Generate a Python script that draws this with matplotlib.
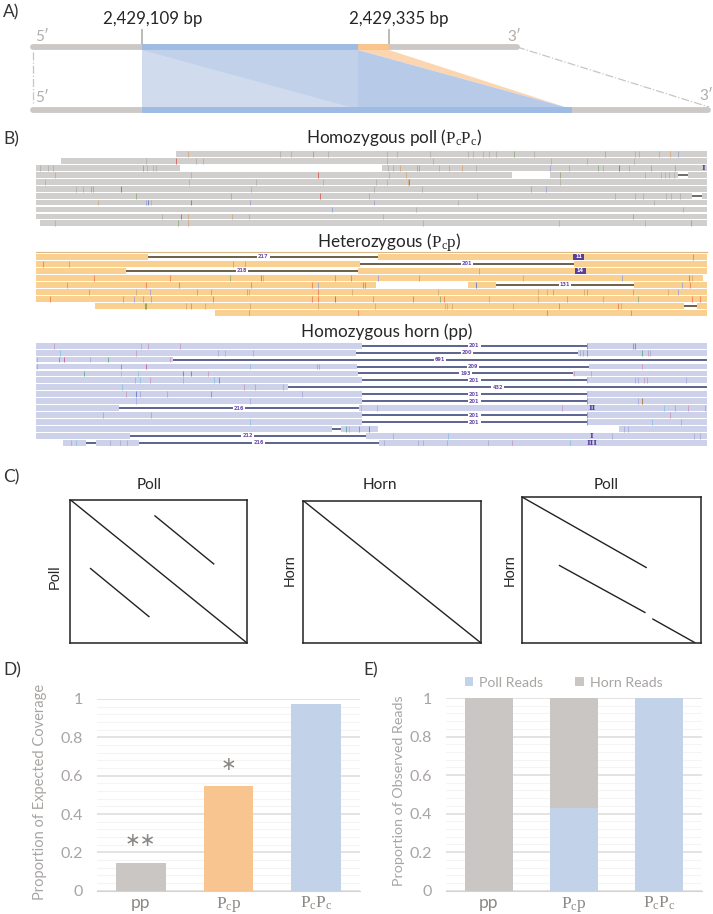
import matplotlib
matplotlib.use('Agg')
import matplotlib.pyplot as plt
from matplotlib.patches import Rectangle, Polygon

plt.rcParams['font.family'] = ['Lato', 'DejaVu Sans']
plt.rcParams['mathtext.fontset'] = 'custom'
plt.rcParams['mathtext.rm'] = 'Liberation Serif'
plt.rcParams['mathtext.it'] = 'Liberation Serif'

W, H = 713, 914
VIEW_W = 1568  # read tracks are in browser-view units, full figure width

# read tracks: solid read pieces per row
poll_reads = [[(388, 1555)], [(135, 1555)], [(80, 396), (840, 1555)],
              [(80, 1125), (1210, 1490), (1512, 1555)], [(80, 1555)], [(80, 1555)],
              [(80, 1522), (1544, 1555)], [(80, 1555)], [(80, 1555)], [(80, 1555)], [(88, 1555)]]
het_reads = [[(80, 326), (832, 1555)], [(80, 792), (1262, 1555)], [(80, 278), (787, 1555)],
             [(80, 1545)], [(80, 827), (1029, 1090), (1395, 1555)], [(80, 1555)], [(80, 1555)],
             [(210, 1505), (1532, 1555)], [(472, 1555)]]
horn_reads = [[(80, 796), (1290, 1555)], [(80, 782), (1272, 1555)], [(80, 380)],
              [(80, 785), (1295, 1555)], [(80, 787), (1260, 1555)], [(80, 796), (1290, 1555)],
              [(80, 634)], [(80, 796), (1290, 1555)], [(80, 796), (1290, 1555)],
              [(80, 261), (790, 1555)], [(80, 796), (1290, 1555)], [(80, 796), (1290, 1555)],
              [(80, 730), (750, 832), (1362, 1555)], [(80, 285), (804, 1555)],
              [(138, 190), (212, 305), (833, 1555)]]

# deletions: row, start, end, label
poll_dels = [(3, 1490, 1512, ''), (6, 1522, 1544, '')]
het_dels = [(0, 326, 832, '217'), (1, 792, 1262, '201'), (2, 278, 787, '218'),
            (4, 1090, 1395, '131'), (7, 1505, 1532, '')]
horn_dels = [(0, 796, 1290, '201'), (1, 782, 1272, '200'), (2, 380, 1555, '691'),
             (3, 785, 1295, '209'), (4, 787, 1260, '193'), (5, 796, 1290, '201'),
             (6, 634, 1555, '432'), (7, 796, 1290, '201'), (8, 796, 1290, '201'),
             (9, 261, 790, '216'), (10, 796, 1290, '201'), (11, 796, 1290, '201'),
             (12, 730, 750, ''), (13, 285, 804, '212'), (14, 190, 212, ''), (14, 305, 833, '216')]

# insertions: row, x, label
poll_ins = [(2, 1547, 'I')]
het_ins = [(0, 1273, '11'), (2, 1276, '14')]
horn_ins = [(9, 1303, 'II'), (13, 1301, 'I'), (14, 1303, 'III')]

# mismatch ticks per row as (x, colour key)
poll_snps = [
    [(413, 'o'), (616, 'n'), (640, 'n'), (688, 'g'), (722, 'n'), (851, 'n'), (872, 'n'), (945, 'n'), (1030, 'n'),
     (1040, 'n'), (1062, 'n'), (1076, 'o'), (1090, 'n'), (1130, 'g'), (1174, 'n'), (1330, 'b'), (1397, 'n'),
     (1405, 'n'), (1449, 'n'), (1473, 'o'), (1491, 'b')],
    [(321, 'n'), (388, 'R'), (432, 'n'), (446, 'n'), (851, 'n'), (953, 'n'), (1211, 'o'), (1292, 'n'), (1395, 'n')],
    [(88, 'n'), (105, 'n'), (117, 'n'), (315, 'g'), (323, 'n'), (337, 'o'), (344, 'n'), (853, 'n'), (865, 'n'),
     (880, 'o'), (917, 'b'), (921, 'b'), (965, 'n'), (988, 'o'), (1016, 'o'), (1047, 'n'), (1210, 'b'), (1252, 'n'),
     (1314, 'g'), (1325, 'n'), (1362, 'B'), (1383, 'o'), (1432, 'b'), (1485, 'b')],
    [(120, 'o'), (421, 'n'), (699, 'R'), (855, 'n'), (893, 'o'), (1231, 'g'), (1418, 'o'), (1453, 'n'), (1463, 'n'),
     (1472, 'n'), (1482, 'n')],
    [(100, 'n'), (415, 'n'), (563, 'n'), (711, 'n'), (826, 'n'), (851, 'o'), (897, 'o'), (900, 'R'), (1231, 'n')],
    [(167, 'n'), (182, 'n'), (200, 'b'), (205, 'b'), (267, 'B'), (552, 'n'), (823, 'n'), (929, 'n'), (1168, 'b'),
     (1201, 'b')],
    [(298, 'g'), (508, 'b'), (703, 'R'), (811, 'n'), (1048, 'o'), (1352, 'n'), (1397, 'n'), (1415, 'o'), (1465, 'n'),
     (1475, 'n'), (1495, 'n')],
    [(215, 'o'), (322, 'b'), (325, 'B'), (331, 'n'), (421, 'B'), (550, 'b'), (823, 'b'), (1008, 'n'), (1438, 'n')],
    [(730, 'b'), (915, 'n'), (1503, 'n')],
    [(356, 'n'), (397, 'R'), (414, 'o'), (510, 'o'), (547, 'n'), (843, 'n'), (1393, 'g')],
    [(121, 'n'), (391, 'g'), (414, 'o'), (930, 'n'), (1230, 'n'), (1418, 'n'), (1520, 'g')],
]
het_snps = [
    [(1523, 'r')],
    [(95, 'r'), (152, 'b'), (513, 'b'), (538, 'b')],
    [(1053, 'b')],
    [(207, 'r'), (373, 'r'), (505, 'g'), (574, 'G'), (578, 'o'), (737, 'g'), (772, 'r'), (832, 'b'), (921, 'b'),
     (1150, 'o'), (1368, 'b'), (1515, 'G'), (1522, 'o')],
    [(148, 'b'), (320, 'r'), (393, 'r'), (552, 'g'), (687, 'r'), (699, 'b'), (798, 'r'), (803, 'r'), (1047, 'B'),
     (1500, 'b'), (1517, 'r')],
    [(195, 'b'), (298, 'o'), (330, 'b'), (433, 'b'), (464, 'b'), (544, 'b'), (548, 'o'), (700, 'r'), (775, 'o'),
     (963, 'o'), (1183, 'o'), (1204, 'o'), (1216, 'b'), (1285, 'o'), (1292, 'b'), (1393, 'b'), (1470, 'o'), (1490, 'b')],
    [(110, 'r'), (271, 'b'), (295, 'b'), (315, 'b'), (331, 'b'), (469, 'r'), (687, 'r'), (700, 'r'), (736, 'B'),
     (821, 'b'), (909, 'r'), (968, 'g'), (976, 'r'), (1075, 'o'), (1183, 'o'), (1247, 'b'), (1325, 'o'), (1402, 'g'),
     (1522, 'r'), (1540, 'r')],
    [(318, 'G'), (322, 'G'), (408, 'o'), (421, 'g'), (450, 'o'), (550, 'o'), (700, 'o'), (825, 'o'), (978, 'o'),
     (983, 'o'), (995, 'o'), (1128, 'o'), (1230, 'g'), (1358, 'r'), (1365, 'o')],
    [(547, 'b'), (787, 'r'), (1203, 'r'), (1387, 'r')],
]
horn_snps = [
    [(118, 'p'), (310, 'c'), (326, 'p'), (395, 'p'), (1292, 'e'), (1392, 'e'), (1397, 'P')],
    [(133, 'c'), (298, 'p'), (479, 'v'), (495, 'c'), (556, 'v'), (1275, 'v'), (1282, 'p'), (1292, 'e'), (1412, 'e'),
     (1425, 'p'), (1430, 'v')],
    [(82, 'c'), (130, 'e'), (140, 'P'), (198, 'v'), (237, 'e'), (374, 'p')],
    [(81, 'p'), (267, 'e'), (320, 'P'), (549, 'c'), (697, 'p'), (702, 'p'), (1411, 'p')],
    [(184, 'e'), (267, 'c'), (304, 'c'), (402, 'B'), (421, 'B'), (458, 'p'), (1262, 'p'), (1300, 'p')],
    [(297, 'v'), (308, 'c'), (329, 'p'), (403, 'v'), (470, 'c'), (481, 'P'), (1291, 'c'), (1396, 'v'), (1403, 'v'),
     (1417, 'p'), (1423, 'p'), (1508, 'v')],
    [(268, 'c'), (536, 'p'), (560, 'p'), (623, 'v')],
    [(278, 'p'), (298, 'B'), (307, 'v'), (368, 'p'), (463, 'e'), (665, 'v'), (1291, 'c')],
    [(298, 'v'), (550, 'v'), (1291, 'e'), (1402, 'v'), (1411, 'k')],
    [(793, 'c'), (830, 'v'), (1237, 'p'), (1460, 'c'), (1484, 'p'), (1512, 'p'), (1550, 'v')],
    [(227, 'p'), (333, 'p'), (1291, 'e'), (1473, 'p')],
    [(550, 'c'), (1291, 'e'), (1434, 'c'), (1498, 'v')],
    [(762, 'e'), (767, 'c'), (789, 'e'), (812, 'B'), (1372, 'v'), (1380, 'v')],
    [(865, 'v'), (986, 'c'), (1345, 'v'), (1527, 'v'), (1540, 'v')],
    [(157, 'v'), (167, 'c'), (243, 'v'), (263, 'v'), (279, 'v'), (845, 'v'), (920, 'v'), (931, 'v'), (983, 'v'),
     (1073, 'v'), (1127, 'p'), (1254, 'c')],
]
snp_colors = {'n': '#b5b0a8', 'o': '#d8a878', 'g': '#8fae7e', 'G': '#7fa040', 'b': '#9aa4d8', 'B': '#5f78d0',
              'R': '#d85a50', 'r': '#ef7f50', 'p': '#c89ac0', 'P': '#c85a90', 'c': '#86c4e4', 'e': '#5fa88a',
              'v': '#a9acd8', 'k': '#a87030'}

# dot plots in panel C, fractions of each box (top left = 0, 0)
dot_poll_poll = [((0, 0), (1, 1)), ((.477, .111), (.815, .452)), ((.113, .478), (.449, .819))]
dot_horn_horn = [((0, 0), (1, 1))]
dot_horn_poll = [((0, 0), (.697, .485)), ((.206, .467), (.690, .793)), ((.728, .834), (.969, 1))]

# bar charts
genotypes = ['pp', r'$\mathrm{P_c p}$', r'$\mathrm{P_c P_c}$']
coverage = [0.145, 0.545, 0.975]
coverage_colors = ['#c9c6c4', '#f8c490', '#c2d2e8']
coverage_stars = ['∗∗', '∗', '']
poll_fraction = [0, 0.43, 1]
horn_fraction = [1, 0.57, 0]
yticks = [0, 0.2, 0.4, 0.6, 0.8, 1]
ytick_labels = ['0', '0.2', '0.4', '0.6', '0.8', '1']
minor_yticks = [0.04 * i for i in range(26) if i % 5]


def px_axes(x0, y0, x1, y1):
    return fig.add_axes([x0 / W, 1 - y1 / H, (x1 - x0) / W, (y1 - y0) / H])


def draw_track(top, dy, reads, dels, ins, snps, color, del_color, ins_color):
    n = len(reads)
    ax = px_axes(0, top - dy / 2, W, top + (n - .5) * dy)
    ax.set_xlim(0, VIEW_W)
    ax.set_ylim(n - .5, -.5)
    ax.axis('off')
    for i, row in enumerate(reads):
        for a, b in row:
            ax.add_patch(Rectangle((a, i - .42), b - a, .84, fc=color, ec='none'))
    for i, row in enumerate(snps):
        for x, c in row:
            ax.plot([x, x], [i - .42, i + .42], color=snp_colors[c], lw=.75, alpha=.8, solid_capstyle='butt')
    for r, a, b, label in dels:
        ax.plot([a, b], [r, r], color=del_color, lw=1.2, solid_capstyle='butt')
        if label:
            ax.text((a + b) / 2, r, label, fontsize=3.6, color='#6a4fb0', weight='bold', ha='center', va='center',
                    family='DejaVu Sans', bbox=dict(fc='white', ec='none', pad=.8))
    for r, x, label in ins:
        if len(label) > 1 and label[0].isdigit():
            ax.add_patch(Rectangle((x - 12, r - .42), 24, .84, fc=ins_color, ec='none'))
            ax.text(x, r, label, fontsize=3.6, color='white', weight='bold', ha='center', va='center',
                    family='DejaVu Sans')
        else:
            ax.text(x, r, label, fontsize=5.5, color=ins_color, weight='bold', ha='center', va='center',
                    family='DejaVu Serif')
    return ax


def draw_dot(x0, y0, x1, y1, segments):
    ax = px_axes(x0, y0, x1, y1)
    ax.set_xlim(0, 1)
    ax.set_ylim(1, 0)
    ax.set_xticks([])
    ax.set_yticks([])
    for s in ax.spines.values():
        s.set_linewidth(1.1)
        s.set_color('#222222')
    for p, q in segments:
        ax.plot([p[0], q[0]], [p[1], q[1]], color='#222222', lw=1.0, solid_capstyle='butt')
    return ax


def style_bars(ax, ylabel, label_x, label_y, label_size):
    ax.set_ylim(0, 1)
    ax.set_xlim(-.5, 2.5)
    ax.set_xticks(range(3), genotypes, fontsize=12.5, color='#8c8886')
    ax.set_yticks(yticks, ytick_labels, fontsize=11.5, color='#a8a5a3')
    ax.set_yticks(minor_yticks, minor=True)
    ax.tick_params(axis='both', which='both', length=0)
    ax.tick_params(axis='x', pad=3)
    ax.tick_params(axis='y', pad=10)
    ax.grid(axis='y', which='major', color='#dcdbda', lw=1.1)
    ax.grid(axis='y', which='minor', color='#f5f4f4', lw=.8)
    ax.set_axisbelow(True)
    for name, s in ax.spines.items():
        s.set_visible(name == 'bottom')
    ax.spines['bottom'].set_color('#d4d3d2')
    ax.set_ylabel(ylabel, fontsize=label_size, color='#a8a5a3')
    ax.yaxis.set_label_coords(label_x, label_y)


fig = plt.figure(figsize=(W / 100, H / 100), dpi=100)

# overlay in pixels for the schematic in panel A and the loose labels
over = fig.add_axes([0, 0, 1, 1], zorder=5)
over.set_xlim(0, W)
over.set_ylim(H, 0)
over.axis('off')
over.patch.set_alpha(0)

for label, x, y in [('A)', 3, 12), ('B)', 3, 139), ('C)', 3, 477), ('D)', 3, 670), ('E)', 363, 670)]:
    over.text(x, y, label, fontsize=12.5, color='#333333', va='center')

# panel A
GRAY = '#cbc8c6'
over.plot([142, 142], [30, 44], color='#bdbab8', lw=1.4)
over.plot([389, 389], [30, 44], color='#bdbab8', lw=1.4)
over.add_patch(Polygon([(142, 50), (358, 50), (358, 107), (142, 107)], fc='#c2d1ea', ec='none'))
over.add_patch(Polygon([(142, 50), (350, 107), (142, 107)], fc='#d0dbee', ec='none'))
over.add_patch(Polygon([(358, 50), (389, 50), (565, 107)], fc='#fbd6b0', ec='none'))
over.add_patch(Polygon([(358, 50), (358, 107), (565, 107)], fc='#b7cbe9', ec='none'))
over.plot([33, 517], [47, 47], color=GRAY, lw=4.2, solid_capstyle='round')
over.plot([33, 708], [110, 110], color=GRAY, lw=4.2, solid_capstyle='round')
over.plot([142, 358], [47, 47], color='#9dbbe3', lw=4.2, solid_capstyle='butt')
over.plot([358, 389], [47, 47], color='#fac48c', lw=4.2, solid_capstyle='butt')
over.plot([142, 572], [110, 110], color='#9dbbe3', lw=4.2, solid_capstyle='butt')
over.plot([33, 33], [52, 105], color='#c8c6c4', lw=.9, ls='-.')
over.plot([517, 709], [47, 107], color='#c8c6c4', lw=.9, ls='-.')
over.text(153, 19, '2,429,109 bp', fontsize=12.2, color='#262626', ha='center', va='center')
over.text(399, 19, '2,429,335 bp', fontsize=12.2, color='#262626', ha='center', va='center')
for x, y, t in [(42, 37, "5′"), (514, 37, "3′"), (42, 98, "5′"), (706, 96, "3′")]:
    over.text(x, y, t, fontsize=11, color='#b0adab', ha='center', va='center')

# panel B
over.text(394, 138, r'Homozygous poll ($\mathrm{P_cP_c}$)', fontsize=12.3, color='#262626', ha='center', va='center')
over.text(389, 242, r'Heterozygous ($\mathrm{P_cp}$)', fontsize=12.3, color='#262626', ha='center', va='center')
over.text(387, 332, 'Homozygous horn (pp)', fontsize=12.3, color='#262626', ha='center', va='center')
draw_track(154.3, 6.9, poll_reads, poll_dels, poll_ins, poll_snps, '#d0cfcd', '#555555', '#5a3f9a')
het_ax = draw_track(256.7, 7.02, het_reads, het_dels, het_ins, het_snps, '#f9d08f', '#54452c', '#5a3f9a')
het_ax.plot([80, 1555], [-.6, -.6], color='#d8b888', lw=.8, clip_on=False)
draw_track(345.7, 6.94, horn_reads, horn_dels, horn_ins, horn_snps, '#cdd2ea', '#3f4a7a', '#5a3f9a')

# panel C
draw_dot(70, 499.5, 247, 643, dot_poll_poll)
draw_dot(303, 500.5, 481, 643, dot_horn_horn)
draw_dot(522, 497, 701, 643, dot_horn_poll)
for x, y, t in [(149.5, 485, 'Poll'), (380, 485, 'Horn'), (606, 485, 'Poll')]:
    over.text(x, y, t, fontsize=11, color='#262626', ha='center', va='center')
for x, y, t in [(55, 577, 'Poll'), (289.5, 570, 'Horn'), (510, 570, 'Horn')]:
    over.text(x, y, t, fontsize=10.5, color='#262626', ha='center', va='center', rotation=90,
              family='Liberation Sans')

# panel D
ax_d = px_axes(97, 699, 360, 890.7)
style_bars(ax_d, 'Proportion of Expected Coverage', -.19, .515, 10.5)
ax_d.bar(range(3), coverage, width=.57, color=coverage_colors)
for i, (v, star) in enumerate(zip(coverage, coverage_stars)):
    if star:
        ax_d.text(i, v + .115, star, fontsize=13.5, color='#8a8684', ha='center', va='center',
                  family='DejaVu Sans')

# panel E
ax_e = px_axes(446, 698, 702, 890.7)
style_bars(ax_e, 'Proportion of Observed Reads', -.16, .52, 10.3)
ax_e.bar(range(3), poll_fraction, width=.565, color='#c2d2e8', label='Poll Reads')
ax_e.bar(range(3), horn_fraction, width=.565, bottom=poll_fraction, color='#c9c6c4', label='Horn Reads')
leg = ax_e.legend(loc='lower left', bbox_to_anchor=(.045, 1.012), ncol=2, frameon=False, fontsize=10.2,
                  labelcolor='#a8a5a3', handlelength=.6, handleheight=.6, handletextpad=.4,
                  columnspacing=2.3, borderpad=0)

fig.savefig('out.png', dpi=100)
